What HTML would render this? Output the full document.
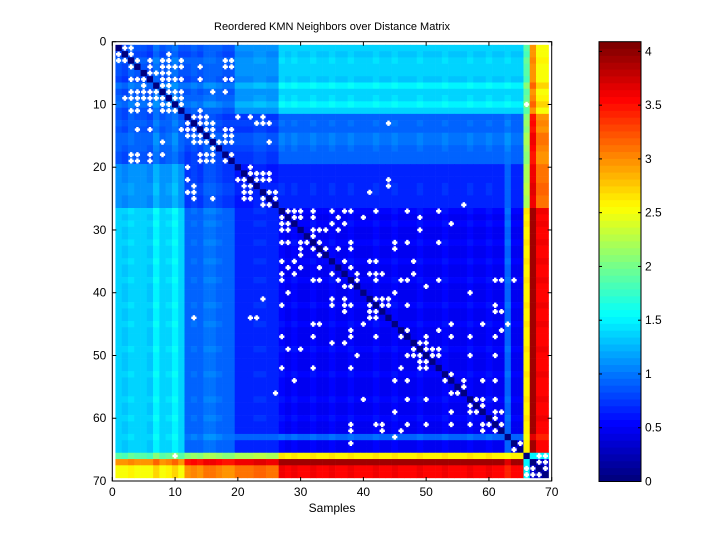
<!DOCTYPE html>
<html><head><meta charset="utf-8"><style>
html,body{margin:0;padding:0;background:#fff;width:720px;height:540px;overflow:hidden}
svg{display:block;font-family:"Liberation Sans",sans-serif}
</style></head><body>
<svg id="fig" width="720" height="540" viewBox="0 0 720 540">
<text x="332" y="30" font-size="11" text-anchor="middle">Reordered KMN Neighbors over Distance Matrix</text>
<g id="heat"></g>
<g id="dots"></g>
<g id="axes"></g>
<text x="332" y="512" font-size="12" text-anchor="middle">Samples</text>
<g id="cbar"></g>
</svg>
<script>
// ---- data ----
const sampleCount = 69;
// cluster of each sample (A=0,B=1,C=2,D=3,E=4,F=5,G=6,H=7)
const sampleCluster = [
 0,0,0,0,0,0,0,0,0,0,0,
 1,1,1,1,1,1,1,1,
 2,2,2,2,2,2,2,
 3,3,3,3,3,3,3,3,3,3,3,3,
 3,3,3,3,3,3,3,3,3,3,3,3,
 3,3,3,3,3,3,3,3,3,3,3,3,
 4,
 3,3,
 5,
 6,
 7,7];
const clusterDist = [
 [0.85,0.85,1.1,1.35,1.4,1.9,3.0,2.55],
 [0.85,0.75,0.75,0.9,1.0,2.1,3.5,3.0],
 [1.1,0.75,0.6,0.65,0.9,2.2,3.6,3.1],
 [1.35,0.9,0.65,0.5,0.95,2.6,3.9,3.55],
 [1.4,1.0,0.9,0.95,0,2.5,3.7,3.4],
 [1.9,2.1,2.2,2.6,2.5,0,1.5,1.5],
 [3.0,3.5,3.6,3.9,3.7,1.5,0,0.35],
 [2.55,3.0,3.1,3.55,3.4,1.5,0.35,0.3]];
const sampleShift = [
 0,-0.05,0.05,0,0,-0.05,0.15,0,0.05,0.15,0,
 0,0.05,0,0.1,0.1,0.05,0,0,
 0,0,0,0.05,0.05,0,0,
 0.05,0,0.05,0,0,0.05,0,0,0.05,0,0,0.05,
 0,0,0,0.05,0,0,0.05,0,0,0,0.05,0,
 0,0,0.05,0,0,0,0.05,0,0,0.05,0,0,
 0,
 0,0,
 0,
 0,
 0,0];
const neighborPairs = [[1,2],[1,3],[2,3],[2,9],[3,4],[3,6],[3,8],[3,9],[3,11],[3,18],[3,19],
[4,6],[4,8],[4,9],[4,10],[4,11],[4,14],[4,18],[4,19],[5,6],[5,7],[5,8],[5,9],
[6,8],[6,9],[6,10],[6,11],[6,14],[6,18],[6,19],[7,8],[7,9],[8,9],[8,10],[8,11],[8,16],[8,18],
[9,10],[9,11],[10,11],[11,14],[12,13],[12,14],[12,15],[12,20],[12,22],[12,24],
[13,14],[13,15],[13,16],[13,23],[13,24],[13,25],[13,44],[14,15],[14,16],[14,18],[14,19],
[15,16],[15,18],[15,19],[16,17],[16,18],[16,19],[16,25],[18,19],[20,22],[21,22],[21,23],[21,24],[21,25],
[22,23],[22,24],[22,25],[22,44],[23,44],[24,25],[24,26],[24,41],[25,26],[26,56],[10,66],
[28,40],[27,42],[32,45],[33,45],[27,47],[32,47],[28,49],[30,49],[27,52],[32,52],[29,54],[35,48],[37,48],
[27,28],[27,29],[27,30],[27,32],[27,35],[27,37],[27,38],[28,29],[28,30],[28,32],[28,36],
[29,35],[29,37],[30,32],[30,33],[30,34],[30,36],[31,32],[32,33],[32,38],[33,34],[33,36],[33,38],
[35,37],[35,41],[35,42],[36,38],[37,39],[37,41],[37,42],[37,43],[38,39],[38,42],[38,46],[38,47],[38,52],[38,61],[38,62],[38,64],
[39,50],[40,45],[40,57],[41,42],[41,43],[41,44],[42,43],[42,44],[42,47],[42,61],[43,61],[43,62],
[45,54],[45,59],[45,63],[46,47],[46,52],[46,62],[47,50],[47,54],[47,57],[47,61],[48,49],[48,50],
[49,50],[49,51],[49,52],[50,51],[50,52],[50,57],[50,61],[53,54],[54,56],[54,59],[54,61],[55,56],
[57,58],[57,59],[57,61],[58,59],[59,61],[59,62],[60,61],[61,62],[64,65],[66,68],[66,69],[67,68],[67,69],[68,69]];
const xTicks = [0,10,20,30,40,50,60,70];
const yTicks = [0,10,20,30,40,50,60,70];
const cbTicks = [0,0.5,1,1.5,2,2.5,3,3.5,4];
const cMax = 4.09;

// ---- geometry ----
const NS='http://www.w3.org/2000/svg';
const L=112.3,R=551.7,T=41.7,B=481;
const xs=v=>L+(R-L)*v/70, ys=v=>T+(B-T)*v/70;
const cw=(R-L)/70, ch=(B-T)/70;
function jet(v){
  let t=Math.max(0,Math.min(1,v/cMax)); t=Math.min(63,Math.floor(t*64))/63;
  const f=x=>Math.round(255*Math.max(0,Math.min(1,1.5-Math.abs(x))));
  return `rgb(${f(4*t-3)},${f(4*t-2)},${f(4*t-1)})`;
}
function mk(tag,attrs,parent){const e=document.createElementNS(NS,tag);for(const k in attrs)e.setAttribute(k,attrs[k]);parent.appendChild(e);return e;}
function dist(i,j){ if(i===j) return 0; return clusterDist[sampleCluster[i]][sampleCluster[j]]+sampleShift[i]+sampleShift[j]; }

const heat=document.getElementById('heat');
for(let i=0;i<sampleCount;i++){for(let j=0;j<sampleCount;j++){
  const r=mk('rect',{x:xs(j+0.5).toFixed(2),y:ys(i+0.5).toFixed(2),width:(cw+0.3).toFixed(2),height:(ch+0.3).toFixed(2),fill:jet(dist(i,j))},heat);
  
  
}}
const dots=document.getElementById('dots');
function dot(i,j){
  const cx=xs(j), cy=ys(i);
  const g=mk('path',{d:`M${cx-1.2} ${cy-2.6}h2.4v1.4h1.4v2.4h-1.4v1.4h-2.4v-1.4h-1.4v-2.4h1.4z`,fill:'#fff'},dots);
  
  
}
neighborPairs.forEach(p=>{dot(p[0],p[1]);dot(p[1],p[0]);});

const ax=document.getElementById('axes');
const frame=mk('rect',{x:L,y:T,width:R-L,height:B-T,fill:'none',stroke:'#000','stroke-width':1},ax);


xTicks.forEach(v=>{
  const x=xs(v);
  mk('line',{x1:x,y1:B,x2:x,y2:B-4,stroke:'#000'},ax);
  mk('line',{x1:x,y1:T,x2:x,y2:T+4,stroke:'#000'},ax);
  const t=mk('text',{x:x,y:B+15,'font-size':12,'text-anchor':'middle'},ax);t.textContent=v;
  
  
});
yTicks.forEach(v=>{
  const y=ys(v);
  mk('line',{x1:L,y1:y,x2:L+4,y2:y,stroke:'#000'},ax);
  mk('line',{x1:R,y1:y,x2:R-4,y2:y,stroke:'#000'},ax);
  const t=mk('text',{x:L-6,y:y+4,'font-size':12,'text-anchor':'end'},ax);t.textContent=v;
  
  
});

const cb=document.getElementById('cbar');
const CL=599,CR=641,CT=41.7,CB=481.5;
const cy=v=>CB-(CB-CT)*v/cMax;
for(let k=0;k<64;k++){
  const v0=k*cMax/64, v1=(k+1)*cMax/64;
  const r=mk('rect',{x:CL,y:cy(v1).toFixed(2),width:CR-CL,height:(cy(v0)-cy(v1)+0.4).toFixed(2),fill:jet(v0+0.001)},cb);
  
  
}
mk('rect',{x:CL,y:CT,width:CR-CL,height:CB-CT,fill:'none',stroke:'#000'},cb);
cbTicks.forEach(v=>{
  const y=cy(v);
  mk('line',{x1:CL,y1:y,x2:CL+3,y2:y,stroke:'#000'},cb);
  mk('line',{x1:CR,y1:y,x2:CR-3,y2:y,stroke:'#000'},cb);
  const t=mk('text',{x:CR+4,y:y+4,'font-size':12},cb);t.textContent=v;
  
  
});
</script>
</body></html>
